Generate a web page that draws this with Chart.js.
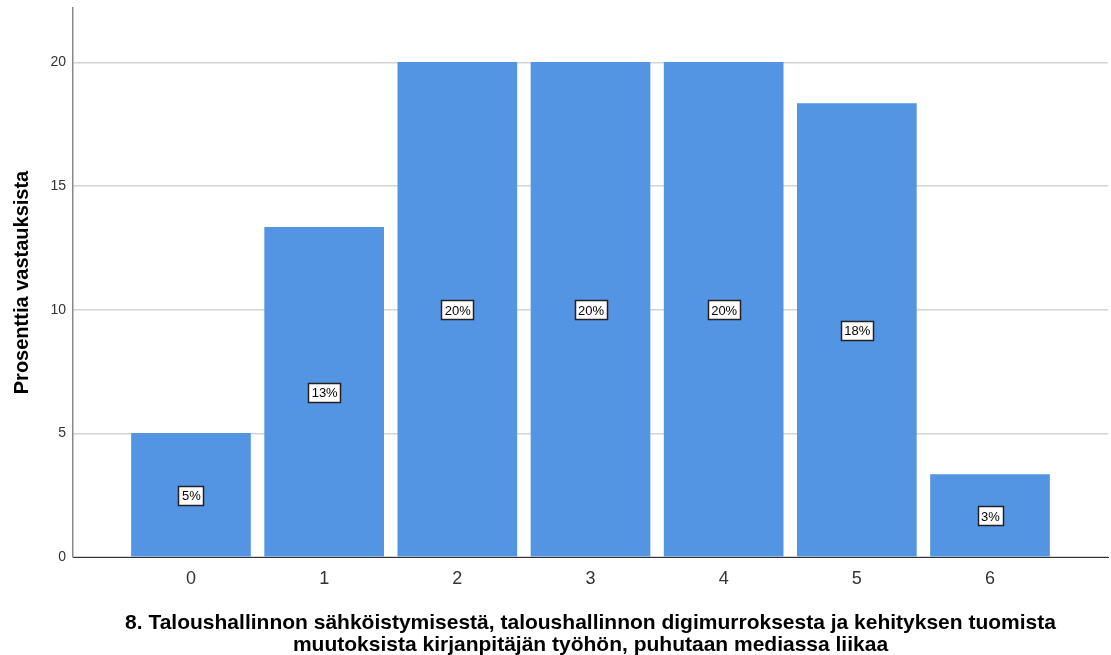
<!DOCTYPE html>
<html>
<head>
    <title>Prosenttia vastauksista</title>
    <script src="https://cdn.jsdelivr.net/npm/chart.js"></script>
    <style>
        body { margin: 0; background: #fff; }
        canvas { display: block; }
    </style>
</head>
<body>
    <canvas id="chart" width="1111" height="655"></canvas>

    <script>
        // Datan arvot
        const categories = [0, 1, 2, 3, 4, 5, 6];
        const percents = [5.0, 13.33, 20.0, 20.0, 20.0, 18.33, 3.33];
        const yTicks = [0, 5, 10, 15, 20];
        const xTitle = [
            '8. Taloushallinnon sähköistymisestä, taloushallinnon digimurroksesta ja kehityksen tuomista',
            'muutoksista kirjanpitäjän työhön, puhutaan mediassa liikaa'
        ];
        const yTitle = 'Prosenttia vastauksista';

        const font = "'Liberation Sans', Arial, sans-serif";

        // Prosenttilaatikot palkkien keskelle
        const boxLabels = {
            id: 'boxLabels',
            afterDatasetsDraw(chart) {
                const ctx = chart.ctx;
                const meta = chart.getDatasetMeta(0);
                const yScale = chart.scales.y;
                ctx.save();
                ctx.font = '13px ' + font;
                ctx.textAlign = 'center';
                ctx.textBaseline = 'middle';
                meta.data.forEach((bar, i) => {
                    const txt = Math.round(percents[i]) + '%';
                    const y = yScale.getPixelForValue(percents[i] / 2);
                    const w = Math.round(ctx.measureText(txt).width + 6);
                    const h = 19;
                    const bx = Math.round(bar.x - w / 2), by = Math.round(y - h / 2);
                    ctx.fillStyle = '#fff';
                    ctx.fillRect(bx, by, w, h);
                    ctx.strokeStyle = '#222';
                    ctx.lineWidth = 1.5;
                    ctx.strokeRect(bx + 0.5, by + 0.5, w, h);
                    ctx.fillStyle = '#000';
                    ctx.fillText(txt, bar.x + 0.5, y + 1.5);
                });
                ctx.restore();
            }
        };

        const chart = new Chart(document.getElementById('chart'), {
            type: 'bar',
            data: {
                datasets: [{
                    data: categories.map((c, i) => ({ x: c, y: percents[i] })),
                    backgroundColor: '#5394e3',
                    borderWidth: 0,
                    barThickness: 119
                }]
            },
            options: {
                responsive: false,
                animation: false,
                layout: { padding: { top: 8, right: 3 } },
                plugins: {
                    legend: { display: false },
                    tooltip: { enabled: false }
                },
                scales: {
                    x: {
                        type: 'linear',
                        offset: false,
                        min: -0.886,
                        max: 6.886,
                        afterBuildTicks: s => { s.ticks = categories.map(v => ({ value: v })); },
                        afterFit: s => { s.height = 98; },
                        grid: { display: false, drawTicks: false },
                        border: { color: '#333', width: 1 },
                        ticks: {
                            color: '#333',
                            font: { family: font, size: 18 },
                            padding: 11
                        },
                        title: {
                            display: true,
                            text: xTitle,
                            color: '#000',
                            font: { family: font, size: 21, weight: 'bold', lineHeight: 1.05 },
                            padding: { top: 25, bottom: -1 }
                        }
                    },
                    y: {
                        min: 0,
                        max: 22.2,
                        afterBuildTicks: s => { s.ticks = yTicks.map(v => ({ value: v })); },
                        afterFit: s => { s.width = 73; s.paddingTop = 0; },
                        grid: { color: '#d4d4d4', drawTicks: false, lineWidth: 1.5 },
                        border: { color: '#888', width: 1.5 },
                        ticks: {
                            color: '#333',
                            font: { family: font, size: 14 },
                            padding: 7
                        },
                        title: {
                            display: true,
                            text: yTitle,
                            color: '#000',
                            font: { family: font, size: 20, weight: 'bold' },
                            padding: { top: 10, bottom: 14 }
                        }
                    }
                }
            },
            plugins: [boxLabels]
        });
    </script>
</body>
</html>
